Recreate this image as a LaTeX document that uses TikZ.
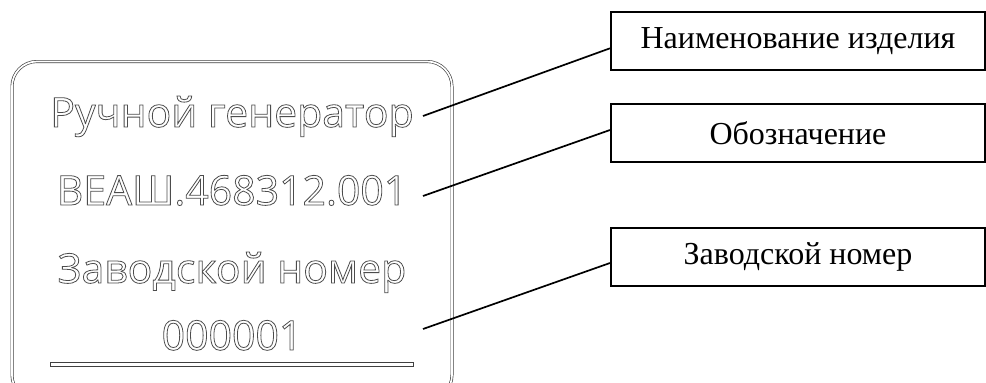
\documentclass[tikz,border=0pt]{standalone}
\usepackage{fontspec}
\setmainfont{Liberation Serif}
\newfontfamily\platefont{Open Sans}

% outlined (hollow) letters for the plate
\newcommand{\outlined}[1]{\special{pdf:literal direct 1 Tr 0.8 w 0.3 G}#1\special{pdf:literal direct 0 Tr}}

\begin{document}
\begin{tikzpicture}[x=1pt,y=-1pt,line width=1.7pt]
    \tikzstyle{label box}=[draw=black,line width=2pt,minimum width=374pt,minimum height=58pt,inner sep=0pt,font=\fontsize{32}{32}\selectfont]
    \tikzstyle{plate text}=[anchor=base,inner sep=0pt,font=\platefont\fontsize{41}{41}\selectfont]
    \tikzstyle{plate line}=[draw=black!75,line width=0.65pt]

    \useasboundingbox (0,0) rectangle (986,383);

    % Draw the plate with its double rounded border
    \draw[plate line,double=white,double distance=1.7pt,rounded corners=25pt] (12,61.5) rectangle (452,400);
    \draw[plate line] (50,362) rectangle (413,366);

    % Draw the plate inscriptions
    \foreach \name / \y / \txt in {1/127/Ручной генератор,2/205/ВЕАШ.468312.001,3/283/Заводской номер,4/350/000001}
        \node[plate text] (T-\name) at (232,\y) {\outlined{\txt}};

    % Free ends of the leader lines
    \foreach \name / \y in {1/116,2/196,3/329}
        \coordinate (S-\name) at (423,\y);

    % Draw the label boxes
    \foreach \name / \y / \txt in {1/41.3/Наименование изделия,2/133/Обозначение,3/257/Заводской номер}
        \node[label box] (L-\name) at (798,\y) {\txt};

    % Connect every inscription with its label
    \draw (S-1) -- ([yshift=-7pt]L-1.west);
    \draw (S-2) -- ([yshift=3pt]L-2.west);
    \draw (S-3) -- ([yshift=-6pt]L-3.west);
\end{tikzpicture}
\end{document}
